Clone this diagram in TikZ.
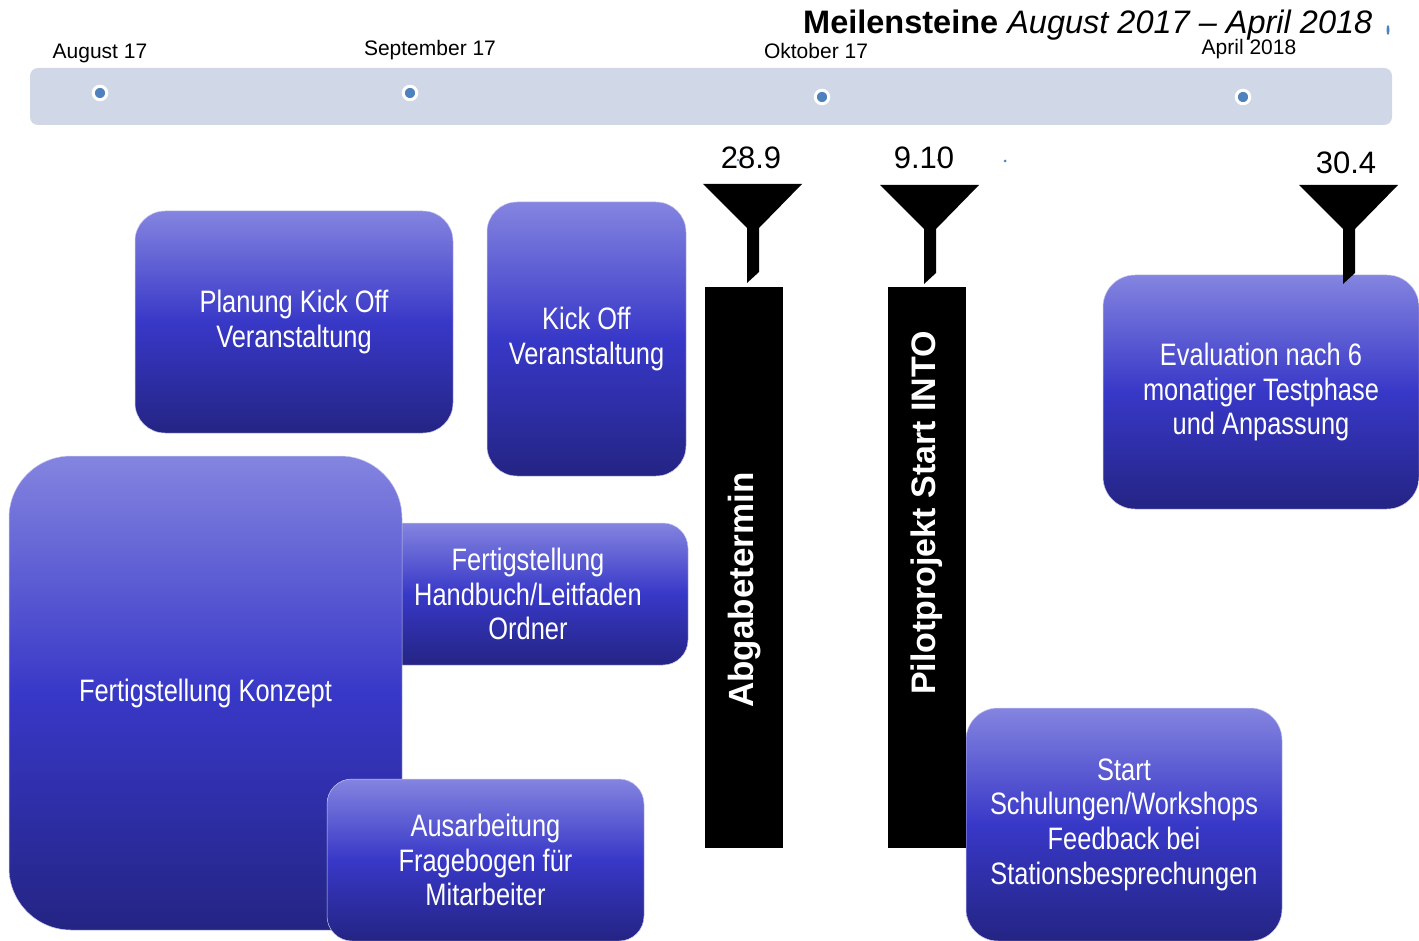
\documentclass[tikz,border=0pt]{standalone}
\usepackage{fontspec}
\setmainfont{Liberation Sans}
\newfontfamily\boxfont[FakeStretch=0.82]{Liberation Sans}
\definecolor{boxtop}{RGB}{132,132,224}
\definecolor{boxmid}{RGB}{56,56,200}
\definecolor{boxbot}{RGB}{36,36,132}
\definecolor{boxedge}{RGB}{200,200,235}
\definecolor{tlbar}{RGB}{208,215,230}
\definecolor{dotblue}{RGB}{79,129,189}
\begin{document}
\begin{tikzpicture}[x=1pt,y=-1pt,
  box/.style={rounded corners=#1, top color=boxtop, bottom color=boxbot, middle color=boxmid,
    draw=boxedge, line width=0.5pt, text=white, align=center, inner sep=0pt,
    font=\boxfont\fontsize{31}{34.7}\selectfont},
  box/.default=30,
  tldot/.style={circle, fill=dotblue, draw=white, line width=3pt, minimum size=13.5, inner sep=0pt},
  tllabel/.style={anchor=base, font=\fontsize{21}{24}\selectfont},
  datelabel/.style={anchor=base, font=\fontsize{31}{34}\selectfont},
  blackbar/.style={fill=black, inner sep=0pt, minimum width=78, minimum height=561},
  bartext/.style={rotate=90, text=white, font=\bfseries\fontsize{#1}{40}\selectfont},
  speck/.style={fill=dotblue}
]
\useasboundingbox (0,0) rectangle (1419,941);
% timeline
\node (tl) [fill=tlbar, rounded corners=8, minimum width=1362, minimum height=57, inner sep=0pt] at (711,96.5) {};
\node (d1) [tldot] at (100,93) {};
\node (d2) [tldot] at (410,93) {};
\node (d3) [tldot] at (822,97) {};
\node (d4) [tldot] at (1243,97) {};
\node (l1) [tllabel] at (100,59) {August 17};
\node (l2) [tllabel] at (430,56) {September 17};
\node (l3) [tllabel] at (816,59) {Oktober 17};
\node (l4) [tllabel] at (1249,55) {April 2018};
\node (title) [anchor=base west, inner sep=0pt, font=\fontsize{32.5}{36}\selectfont] at (803,34)
  {\bfseries Meilensteine\mdseries\itshape{} August 2017 – April 2018};
\fill[speck] (1388,30) ellipse (1.5 and 5);
\fill[speck] (1005,161) circle (1.5);
\fill[speck] (738,160) circle (1.3);
\fill[speck] (938,160) circle (1.3);
% dates
\node (dt1) [datelabel] at (751,169) {28.9};
\node (dt2) [datelabel] at (924,169) {9.10};
\node (dt3) [datelabel] at (1346,174) {30.4};
% boxes
\node (b1) [box, minimum width=318, minimum height=222] at (294,322) {Planung Kick Off\\Veranstaltung};
\node (b2) [box, minimum width=199, minimum height=274] at (586.5,339) {Kick Off\\Veranstaltung};
\node (b4) [box=25, minimum width=320, minimum height=142] at (528,594) {Fertigstellung\\Handbuch/Leitfaden\\Ordner};
\node (b3) [box=62, minimum width=393, minimum height=474] at (205.5,693) {Fertigstellung Konzept};
\node (b5) [box=25, minimum width=317, minimum height=162] at (485.5,860) {Ausarbeitung\\Fragebogen für\\Mitarbeiter};
\node (b6) [box=32, minimum width=316, minimum height=234] at (1261,392) {Evaluation nach 6\\monatiger Testphase\\und Anpassung};
\node (b7) [box=32, minimum width=316, minimum height=233] at (1124,824.5) {Start\\Schulungen/Workshops\\Feedback bei\\Stationsbesprechungen};
% black bars
\node (bar1) [blackbar] at (744,567.5) {};
\node (bar2) [blackbar] at (926.5,567.5) {};
\node (bt1) [bartext=35] at (745,590) {Abgabetermin};
\node (bt2) [bartext=34] at (927,513) {Pilotprojekt Start INTO};
% funnels
\foreach \dx/\dy in {0/0, 177/1, 596/1}{
  \fill[black, shift={(\dx,\dy)}] (703,184) -- (802,184) -- (759,228) -- (759,272) -- (747,283) -- (747,228) -- cycle;
}
\end{tikzpicture}
\end{document}
